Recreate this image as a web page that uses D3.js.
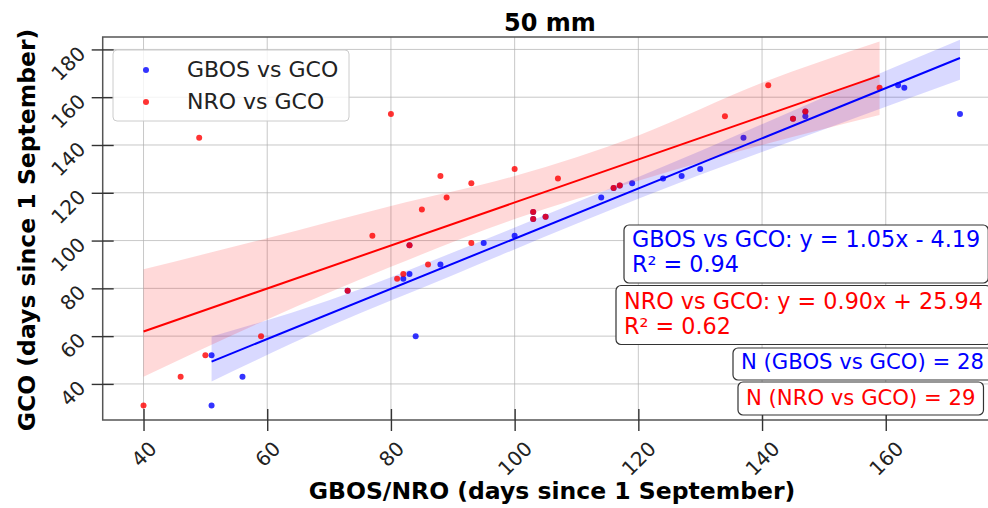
<!DOCTYPE html>
<html>
<head>
<meta charset="utf-8">
<script src="https://cdn.jsdelivr.net/npm/d3@7"></script>
<style>
  body { margin: 0; background: #fff; }
  svg { display: block; font-family: "DejaVu Sans", sans-serif; }
</style>
</head>
<body>
<div id="chart"></div>
<script>
const width = 988, height = 508;

// GBOS vs GCO (blue)
const gbosX = [51, 51, 56, 73, 82, 83, 83, 84, 88, 95, 100, 103, 103, 105, 114, 116, 117, 119, 124, 127, 130, 137, 145, 147, 147, 162, 163, 172];
const gbosY = [31, 52, 43, 79, 84, 86, 98, 60, 90, 99, 102, 112, 109, 110, 118, 122, 123, 124, 126, 127, 130, 143, 151, 152, 154, 165, 164, 153];
// NRO vs GCO (red)
const nroX = [40, 46, 49, 50, 59, 73, 77, 80, 81, 82, 83, 85, 86, 88, 89, 93, 93, 100, 103, 103, 105, 107, 116, 117, 134, 141, 145, 147, 159];
const nroY = [31, 43, 143, 52, 60, 79, 102, 153, 84, 86, 98, 113, 90, 127, 118, 99, 124, 130, 112, 109, 110, 126, 122, 123, 152, 165, 151, 154, 164];

// regression: [slope, intercept], R²
const gbosFit = [1.05, -4.19], gbosR2 = 0.94;
const nroFit = [0.90, 25.94], nroR2 = 0.62;

// confidence bands
const gbosBandX = [51, 70, 90, 110, 130, 150, 172];
const gbosBandLo = [41, 64, 85.5, 107, 127.5, 146.5, 167.3];
const gbosBandHi = [59.8, 75, 95, 116, 137.5, 160, 184];
const nroBandX = [40, 60, 80, 100, 120, 140, 159];
const nroBandLo = [43, 67, 89, 109, 125, 140, 152.6];
const nroBandHi = [88, 101, 114.5, 127, 144, 166, 183.3];

const xTicks = [40, 60, 80, 100, 120, 140, 160];
const yTicks = [40, 60, 80, 100, 120, 140, 160, 180];

const pLeft = 102.7, pTop = 37, pBottom = 420, pRight = 1000.8;
const x = d3.scaleLinear().domain([33.4, 178.6]).range([pLeft, pRight]);
const y = d3.scaleLinear().domain([24.9, 185.2]).range([pBottom, pTop]);

const blue = "#0000ff", red = "#ff0000";

const svg = d3.select("#chart").append("svg")
  .attr("width", width)
  .attr("height", height);

svg.append("defs").append("clipPath").attr("id", "plot")
  .append("rect").attr("x", pLeft).attr("y", pTop)
  .attr("width", pRight - pLeft).attr("height", pBottom - pTop);

// grid
const grid = svg.append("g").attr("stroke", "#b0b0b0").attr("stroke-opacity", 0.7);
grid.selectAll(".gx").data(xTicks).join("line")
  .attr("x1", d => x(d)).attr("x2", d => x(d))
  .attr("y1", pTop).attr("y2", pBottom);
grid.selectAll(".gy").data(yTicks).join("line")
  .attr("y1", d => y(d)).attr("y2", d => y(d))
  .attr("x1", pLeft).attr("x2", pRight);

const plot = svg.append("g").attr("clip-path", "url(#plot)");

function band(bx, lo, hi) {
  return d3.area()
    .x(i => x(bx[i]))
    .y0(i => y(lo[i]))
    .y1(i => y(hi[i]))
    .curve(d3.curveMonotoneX)(d3.range(bx.length));
}

function dots(xs, ys, color) {
  plot.append("g").selectAll("circle").data(d3.range(xs.length)).join("circle")
    .attr("cx", i => x(xs[i]))
    .attr("cy", i => y(ys[i]))
    .attr("r", 3)
    .attr("fill", color)
    .attr("fill-opacity", 0.8);
}

dots(gbosX, gbosY, blue);
plot.append("path").attr("d", band(gbosBandX, gbosBandLo, gbosBandHi))
  .attr("fill", blue).attr("fill-opacity", 0.15);
dots(nroX, nroY, red);
plot.append("path").attr("d", band(nroBandX, nroBandLo, nroBandHi))
  .attr("fill", red).attr("fill-opacity", 0.15);

function fitLine(xs, fit, color) {
  const [x0, x1] = d3.extent(xs);
  plot.append("line")
    .attr("x1", x(x0)).attr("y1", y(fit[0] * x0 + fit[1]))
    .attr("x2", x(x1)).attr("y2", y(fit[0] * x1 + fit[1]))
    .attr("stroke", color).attr("stroke-width", 2);
}
fitLine(gbosX, gbosFit, blue);
fitLine(nroX, nroFit, red);

// frame
svg.append("rect")
  .attr("x", pLeft).attr("y", pTop)
  .attr("width", pRight - pLeft).attr("height", pBottom - pTop)
  .attr("fill", "none").attr("stroke", "#555").attr("stroke-width", 1.5);

// axes (ticks cross the spine)
const tickFont = 20;
const xAxis = svg.append("g").attr("transform", `translate(0,${pBottom})`)
  .call(d3.axisBottom(x).tickValues(xTicks).tickSize(11).tickSizeOuter(0));
xAxis.select(".domain").remove();
xAxis.selectAll(".tick line").attr("y1", -11).attr("stroke", "#333").attr("stroke-width", 1.4);
xAxis.selectAll(".tick text")
  .attr("font-size", tickFont).attr("font-family", "DejaVu Sans").attr("fill", "#222")
  .attr("y", null).attr("dy", null)
  .attr("text-anchor", "middle").attr("dominant-baseline", "central")
  .each(function () {
    const w = this.getComputedTextLength();
    const h = 0.73 * tickFont;
    const H = (w + h) * Math.SQRT1_2;
    d3.select(this).attr("transform", `translate(0,${20 + H / 2}) rotate(-45)`);
  });

const yAxis = svg.append("g").attr("transform", `translate(${pLeft},0)`)
  .call(d3.axisLeft(y).tickValues(yTicks).tickSize(11).tickSizeOuter(0));
yAxis.select(".domain").remove();
yAxis.selectAll(".tick line").attr("x1", 11).attr("stroke", "#333").attr("stroke-width", 1.4);
yAxis.selectAll(".tick text")
  .attr("font-size", tickFont).attr("font-family", "DejaVu Sans").attr("fill", "#222")
  .attr("x", null).attr("dy", null)
  .attr("text-anchor", "end").attr("dominant-baseline", "central")
  .attr("transform", "translate(-21,0) rotate(-45)");

// titles
svg.append("text").attr("x", 550).attr("y", 31)
  .attr("text-anchor", "middle").attr("font-size", 24).attr("font-weight", "bold")
  .text("50 mm");
svg.append("text").attr("x", 552).attr("y", 499)
  .attr("text-anchor", "middle").attr("font-size", 23.5).attr("font-weight", "bold")
  .text("GBOS/NRO (days since 1 September)");
svg.append("text").attr("transform", "translate(35,230) rotate(-90)")
  .attr("text-anchor", "middle").attr("font-size", 23.5).attr("font-weight", "bold")
  .text("GCO (days since 1 September)");

// legend
const legend = svg.append("g");
legend.append("rect").attr("x", 113).attr("y", 50).attr("width", 236).attr("height", 71)
  .attr("rx", 4).attr("fill", "#fff").attr("fill-opacity", 0.8)
  .attr("stroke", "#ccc");
[["GBOS vs GCO", blue], ["NRO vs GCO", red]].forEach(([label, color], i) => {
  legend.append("circle").attr("cx", 146).attr("cy", 70 + i * 32).attr("r", 3)
    .attr("fill", color).attr("fill-opacity", 0.8);
  legend.append("text").attr("x", 187).attr("y", 77 + i * 32)
    .attr("font-size", 22).attr("fill", "#222").text(label);
});

// annotation boxes
const fmt = v => v.toFixed(2);
const boxes = [
  { lines: [`GBOS vs GCO: y = ${fmt(gbosFit[0])}x - ${fmt(Math.abs(gbosFit[1]))}`, `R² = ${fmt(gbosR2)}`],
    color: blue, tx: 632, top: 225, base: 247, bottom: 283, size: 22.3 },
  { lines: [`NRO vs GCO: y = ${fmt(nroFit[0])}x + ${fmt(nroFit[1])}`, `R² = ${fmt(nroR2)}`],
    color: red, tx: 624, top: 285.5, base: 309, bottom: 344.5, size: 22.3 },
  { lines: [`N (GBOS vs GCO) = ${gbosX.length}`], color: blue, tx: 741, top: 348, base: 369, bottom: 380, size: 21.2 },
  { lines: [`N (NRO vs GCO) = ${nroX.length}`], color: red, tx: 746, top: 382, base: 405, bottom: 415, size: 21.2 }
];
boxes.forEach(b => {
  const g = svg.append("g");
  const rect = g.append("rect");
  let w = 0;
  b.lines.forEach((line, i) => {
    const t = g.append("text").attr("x", b.tx).attr("y", b.base + i * 25)
      .attr("font-size", b.size).attr("fill", b.color).text(line);
    w = Math.max(w, t.node().getComputedTextLength());
  });
  rect.attr("x", b.tx - 8).attr("y", b.top)
    .attr("width", w + 16).attr("height", b.bottom - b.top)
    .attr("rx", 5).attr("fill", "#fff").attr("stroke", "#333").attr("stroke-width", 1.2);
});
</script>
</body>
</html>
